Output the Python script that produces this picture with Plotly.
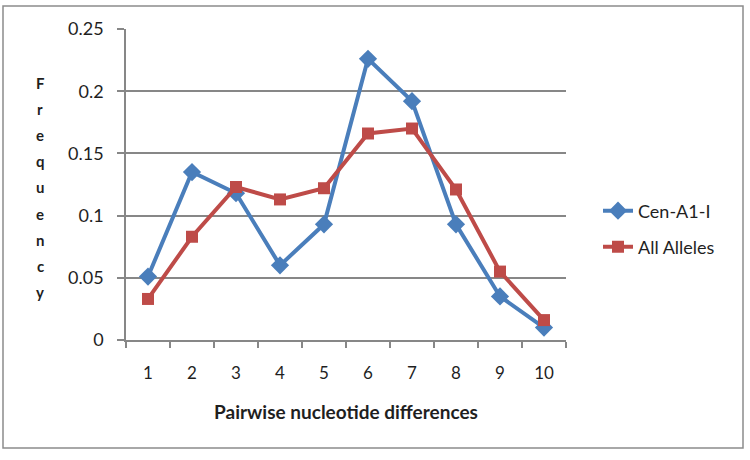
import plotly.graph_objects as go

categories = ["1", "2", "3", "4", "5", "6", "7", "8", "9", "10"]
cen_a1_i = [0.051, 0.135, 0.118, 0.060, 0.093, 0.226, 0.192, 0.093, 0.035, 0.010]
all_alleles = [0.033, 0.083, 0.123, 0.113, 0.122, 0.166, 0.170, 0.121, 0.055, 0.016]
y_ticks = [0, 0.05, 0.1, 0.15, 0.2, 0.25]
y_tick_labels = ["0", "0.05", "0.1", "0.15", "0.2", "0.25"]
y_title_letters = list("Frequency")

BLUE = "#4A7EBB"
RED = "#BE4B48"
GRID = "#878787"
TXT = "#1f1f1f"
FONT = "Lato, 'Open Sans', sans-serif"

W, H = 750, 460
L, R, T, B = 126, 184, 29, 120
pw, ph = W - L - R, H - T - B

def px_x(px):
    return (px - L) / pw

def px_y(py):
    return (H - B - py) / ph

fig = go.Figure()
fig.add_trace(go.Scatter(
    x=categories, y=cen_a1_i, mode="lines+markers", name="Cen-A1-I",
    line=dict(color=BLUE, width=4),
    marker=dict(symbol="diamond", size=14, color=BLUE),
    legend="legend",
))
fig.add_trace(go.Scatter(
    x=categories, y=all_alleles, mode="lines+markers", name="All Alleles",
    line=dict(color=RED, width=4),
    marker=dict(symbol="square", size=12, color=RED),
    legend="legend2",
))

fig.update_layout(
    width=W, height=H,
    margin=dict(l=L, r=R, t=T, b=B),
    paper_bgcolor="white", plot_bgcolor="white",
    font=dict(family=FONT, size=18, color=TXT),
    xaxis=dict(
        type="category", range=[-0.5, 9.5], tickson="boundaries",
        showgrid=False, showline=True, linecolor=GRID, linewidth=1.5,
        ticks="outside", ticklen=6, tickcolor=GRID, tickwidth=1.5,
        tickfont=dict(size=17, color=TXT), ticklabelstandoff=17,
        title=dict(text="<b>Pairwise nucleotide differences</b>",
                   font=dict(size=19, color=TXT), standoff=24),
        zeroline=False,
    ),
    yaxis=dict(
        range=[0, 0.25], tickvals=y_ticks, ticktext=y_tick_labels,
        showgrid=True, gridcolor=GRID, gridwidth=1.5,
        showline=True, linecolor=GRID, linewidth=1.5,
        ticks="outside", ticklen=7, tickcolor=GRID, tickwidth=1.5,
        tickfont=dict(size=18, color=TXT), ticklabelstandoff=10,
        zeroline=False,
    ),
    legend=dict(x=px_x(598), y=px_y(211), xanchor="left", yanchor="middle",
                font=dict(size=18, color=TXT), bgcolor="rgba(0,0,0,0)"),
    legend2=dict(x=px_x(598), y=px_y(247), xanchor="left", yanchor="middle",
                 font=dict(size=18, color=TXT), bgcolor="rgba(0,0,0,0)"),
    showlegend=True,
)

# outer frame
fig.add_shape(type="rect", xref="paper", yref="paper",
              x0=px_x(3), x1=px_x(743), y0=px_y(448), y1=px_y(6),
              line=dict(color="#8c8c8c", width=1.5), layer="below")

# stacked vertical y-axis title
y0 = 83
for i, ch in enumerate(y_title_letters):
    fig.add_annotation(text=f"<b>{ch}</b>", xref="paper", yref="paper",
                       x=px_x(40), y=px_y(y0 + i * 26.1), showarrow=False,
                       xanchor="center", yanchor="middle",
                       font=dict(size=15, color=TXT))

fig.write_html("out.html", config={"displayModeBar": False},
               post_script="document.body.style.margin='0';document.body.style.overflow='hidden';")
